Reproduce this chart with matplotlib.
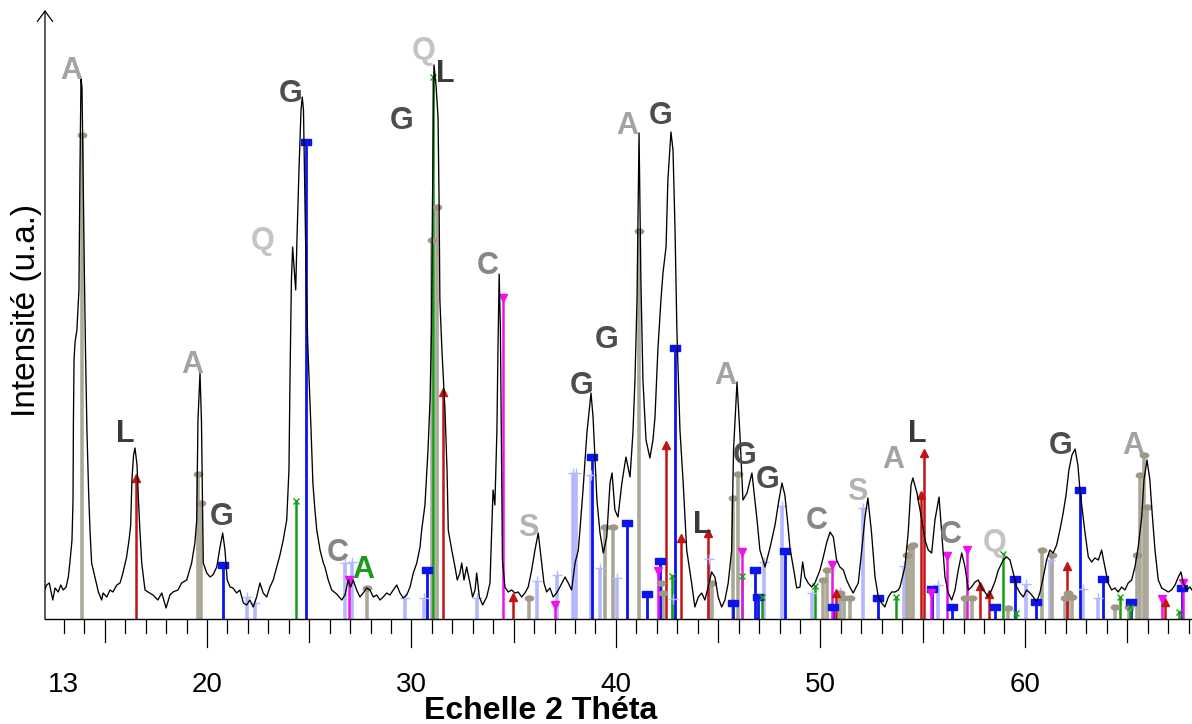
import matplotlib
matplotlib.use("Agg")
import matplotlib.pyplot as plt
from matplotlib.path import Path
from matplotlib.transforms import blended_transform_factory

plt.rcParams['font.family'] = ['Liberation Sans', 'DejaVu Sans']

# ---------------- measured diffractogram (2-theta in degrees, intensity a.u.) ----------------
two_theta = [12.08,
             12.16, 12.29, 12.46, 12.57, 12.73, 12.85, 12.97, 13.11, 13.22, 13.30,
             13.40, 13.45, 13.47, 13.50, 13.55, 13.64, 13.74, 13.79, 13.84, 13.89,
             13.94, 14.01, 14.06, 14.13, 14.21, 14.28, 14.36, 14.52, 14.69, 14.85,
             14.92, 15.10, 15.26, 15.40, 15.59, 15.75, 15.89, 16.07, 16.19, 16.27,
             16.33, 16.41, 16.48, 16.58, 16.65, 16.72, 16.81, 16.97, 17.12, 17.36,
             17.60, 17.79, 18.00, 18.19, 18.34, 18.58, 18.76, 19.01, 19.25, 19.41,
             19.50, 19.56, 19.66, 19.73, 19.78, 19.82, 19.99, 20.15, 20.29, 20.48,
             20.64, 20.77, 20.88, 20.99, 21.13, 21.27, 21.45, 21.61, 21.78, 21.94,
             22.10, 22.26, 22.43, 22.59, 22.75, 22.92, 23.08, 23.24, 23.41, 23.57,
             23.73, 23.90, 24.01, 24.06, 24.13, 24.19, 24.25, 24.34, 24.40, 24.50,
             24.60, 24.66, 24.72, 24.79, 24.87, 24.94, 25.09, 25.18, 25.28, 25.37,
             25.53, 25.69, 25.77, 25.93, 26.10, 26.34, 26.59, 26.75, 26.91, 27.03,
             27.15, 27.32, 27.48, 27.64, 27.81, 27.97, 28.13, 28.30, 28.46, 28.62,
             28.79, 28.95, 29.11, 29.28, 29.44, 29.60, 29.77, 29.93, 30.09, 30.26,
             30.42, 30.50, 30.66, 30.81, 30.91, 30.98, 31.03, 31.10, 31.20, 31.30,
             31.35, 31.39, 31.49, 31.64, 31.74, 31.80, 31.97, 32.13, 32.24, 32.37,
             32.46, 32.57, 32.70, 32.86, 32.99, 33.11, 33.19, 33.32, 33.48, 33.68,
             33.84, 33.91, 33.99, 34.08, 34.18, 34.23, 34.29, 34.35, 34.40, 34.45,
             34.57, 34.73, 34.90, 35.06, 35.22, 35.39, 35.55, 35.71, 35.88, 36.04,
             36.20, 36.37, 36.48, 36.61, 36.77, 36.93, 37.10, 37.26, 37.51, 37.67,
             37.83, 38.00, 38.16, 38.24, 38.39, 38.58, 38.78, 38.88, 39.07, 39.22,
             39.38, 39.55, 39.71, 39.81, 39.95, 40.10, 40.29, 40.49, 40.69, 40.83,
             40.93, 41.03, 41.13, 41.22, 41.32, 41.47, 41.66, 41.81, 41.91, 42.05,
             42.20, 42.30, 42.45, 42.54, 42.69, 42.79, 42.89, 42.98, 43.13, 43.28,
             43.46, 43.70, 43.86, 44.03, 44.19, 44.35, 44.51, 44.68, 44.84, 45.00,
             45.17, 45.33, 45.49, 45.66, 45.75, 45.92, 46.06, 46.21, 46.41, 46.65,
             46.90, 47.04, 47.29, 47.53, 47.78, 47.97, 48.12, 48.26, 48.41, 48.51,
             48.67, 48.84, 49.00, 49.13, 49.24, 49.40, 49.57, 49.73, 49.98, 50.14,
             50.30, 50.47, 50.63, 50.79, 50.95, 51.12, 51.28, 51.44, 51.60, 51.85,
             52.02, 52.18, 52.32, 52.50, 52.67, 52.83, 52.99, 53.15, 53.32, 53.48,
             53.64, 53.81, 53.89, 54.13, 54.29, 54.43, 54.52, 54.72, 54.96, 55.11,
             55.27, 55.44, 55.60, 55.80, 55.93, 56.09, 56.25, 56.42, 56.58, 56.74,
             56.91, 57.07, 57.23, 57.39, 57.56, 57.72, 57.88, 58.04, 58.21, 58.37,
             58.53, 58.70, 58.94, 59.11, 59.27, 59.43, 59.60, 59.76, 59.92, 60.08,
             60.25, 60.41, 60.57, 60.73, 60.90, 61.06, 61.22, 61.38, 61.55, 61.71,
             61.87, 62.01, 62.15, 62.30, 62.45, 62.59, 62.69, 62.94, 63.10, 63.26,
             63.42, 63.59, 63.75, 63.91, 64.07, 64.24, 64.40, 64.56, 64.73, 64.89,
             65.05, 65.22, 65.38, 65.54, 65.71, 65.82, 65.97, 66.11, 66.21, 66.36,
             66.52, 66.69, 66.85, 67.01, 67.17, 67.34, 67.50, 67.63, 67.74, 67.91,
             68.07, 68.17]
intensity = [30,
             34, 36, 19, 31, 27, 34, 29, 32, 42, 57,
             79, 119, 199, 259, 277, 289, 329, 449, 541, 531,
             449, 339, 269, 189, 129, 89, 56, 42, 27, 19,
             26, 22, 29, 27, 34, 36, 46, 62, 79, 94,
             139, 164, 171, 154, 119, 89, 56, 29, 27, 24,
             19, 26, 11, 24, 27, 29, 36, 39, 56, 76,
             99, 199, 246, 199, 119, 56, 46, 42, 44, 52,
             72, 86, 69, 39, 32, 31, 26, 29, 16, 14,
             19, 12, 22, 36, 26, 22, 32, 39, 52, 64,
             79, 99, 149, 239, 339, 372, 354, 329, 379, 449,
             509, 522, 509, 419, 319, 269, 189, 136, 109, 89,
             69, 56, 52, 39, 29, 25, 19, 24, 39, 32,
             39, 29, 22, 26, 31, 29, 22, 24, 19, 22,
             26, 24, 29, 34, 26, 21, 24, 32, 46, 56,
             72, 89, 114, 169, 219, 289, 419, 554, 534, 502,
             419, 319, 269, 209, 149, 89, 69, 52, 39, 46,
             56, 39, 52, 36, 22, 29, 46, 22, 14, 22,
             36, 79, 129, 114, 189, 269, 345, 289, 169, 59,
             32, 27, 29, 26, 27, 22, 26, 32, 49, 69,
             86, 56, 36, 27, 31, 22, 26, 32, 42, 36,
             29, 56, 69, 89, 129, 186, 226, 202, 119, 86,
             66, 82, 136, 146, 109, 102, 136, 162, 142, 186,
             239, 319, 486, 339, 239, 179, 161, 179, 202, 269,
             319, 346, 372, 439, 487, 469, 389, 289, 189, 139,
             69, 36, 12, 22, 26, 19, 32, 47, 42, 22,
             12, 19, 36, 69, 169, 237, 186, 119, 126, 146,
             99, 69, 52, 71, 94, 119, 136, 124, 94, 71,
             52, 31, 32, 57, 42, 36, 32, 36, 49, 62,
             76, 87, 82, 59, 52, 49, 39, 32, 26, 36,
             69, 102, 121, 86, 42, 22, 16, 12, 22, 27,
             27, 29, 32, 52, 86, 134, 141, 126, 99, 79,
             69, 66, 99, 122, 86, 42, 26, 19, 29, 49,
             66, 52, 29, 32, 37, 39, 31, 27, 22, 29,
             37, 49, 59, 62, 59, 46, 32, 26, 22, 29,
             26, 22, 17, 26, 42, 59, 69, 66, 74, 89,
             106, 124, 149, 164, 170, 154, 129, 86, 62, 57,
             61, 59, 69, 52, 36, 29, 31, 27, 32, 29,
             36, 39, 52, 72, 102, 139, 159, 139, 109, 69,
             39, 31, 29, 27, 29, 34, 42, 47, 36, 29,
             32, 29]
assert len(two_theta) == len(intensity)

# ---------------- reference patterns (stick positions / relative heights) ----------------
A_theta = [13.89, 19.56, 19.71, 27.82, 30.99, 31.25, 35.75, 39.46, 39.85, 41.12, 42.20, 42.30, 44.70,
           45.72, 45.97, 50.12, 50.32, 50.95, 51.15, 51.44, 54.23, 54.38, 54.52, 57.07, 57.41, 59.17,
           60.83, 61.32, 61.96, 62.10, 62.30, 64.40, 65.09, 65.48, 65.62, 65.82, 65.97]
A_int = [484, 145, 116, 31, 379, 412, 21, 92, 92, 388, 36, 26, 36,
         121, 145, 39, 49, 26, 21, 21, 64, 72, 74, 21, 21, 11,
         69, 64, 21, 26, 22, 12, 12, 64, 144, 164, 112]

G_theta = [20.78, 24.83, 30.76, 38.83, 40.54, 41.52, 42.15, 42.89, 45.72, 46.80, 46.95, 48.27, 50.61,
           52.81, 55.45, 56.43, 58.53, 59.51, 60.54, 62.69, 63.82, 65.19, 67.68]
G_int = [54, 477, 49, 162, 96, 25, 58, 271, 16, 49, 22, 68, 12,
         21, 30, 12, 12, 40, 17, 129, 40, 17, 31]

L_theta = [16.53, 31.54, 34.96, 42.45, 43.18, 44.50, 50.76, 54.91, 55.06, 57.80, 58.24, 62.05, 66.85]
L_int = [141, 227, 22, 174, 81, 86, 26, 124, 166, 33, 25, 53, 17]

Q_theta = [24.35, 31.05, 42.74, 46.16, 47.14, 49.73, 53.69, 58.93, 59.56, 64.65, 65.14, 67.53]
Q_int = [118, 542, 43, 43, 22, 33, 22, 65, 6, 22, 12, 7]

C_theta = [26.94, 34.47, 37.02, 42.05, 46.16, 50.56, 55.40, 56.19, 57.16, 66.70, 67.73]
C_int = [39, 321, 14, 48, 67, 54, 26, 63, 69, 20, 36]

S_theta = [21.96, 22.35, 26.75, 27.09, 29.68, 30.61, 33.20, 36.14, 37.12, 37.90, 38.05, 38.78, 39.22,
           40.05, 42.79, 44.55, 47.24, 48.12, 49.59, 50.95, 52.08, 54.08, 55.75, 60.05, 61.22, 62.84,
           63.57]
S_int = [22, 16, 56, 57, 21, 21, 21, 38, 44, 146, 146, 144, 51,
         41, 20, 60, 57, 113, 26, 27, 111, 53, 34, 35, 59, 30,
         21]

# ---------------- peak identification labels ----------------
label_text = ['A', 'L', 'A', 'G', 'Q', 'G', 'C', 'A', 'G', 'Q', 'L', 'C', 'S', 'G', 'G',
              'A', 'G', 'L', 'A', 'G', 'G', 'C', 'S', 'A', 'L', 'C', 'Q', 'G', 'A']
label_theta = [13.38, 15.99, 19.27, 20.73, 22.74, 24.09, 26.41, 27.63, 29.54, 30.61, 31.64, 33.74,
               35.70, 38.34, 39.56, 40.54, 42.20, 44.21, 45.33, 46.31, 47.43, 49.83, 51.79, 53.55,
               54.72, 56.38, 58.53, 61.76, 65.28]
label_int = [551, 188, 257, 105, 381, 528, 69, 52, 501, 571, 548, 356,
             94, 236, 282, 496, 506, 97, 246, 166, 142, 101, 130, 162,
             188, 87, 79, 176, 176]
label_phase = ['A', 'L', 'A', 'G', 'Q', 'G', 'C', 'A2', 'G', 'Q', 'L', 'C', 'S', 'G', 'G',
               'A', 'G', 'L', 'A', 'G', 'G', 'C', 'S', 'A', 'L', 'C', 'Q', 'G', 'A']

x_major_labels = [13, 20, 30, 40, 50, 60]

# ---------------- styling ----------------
letter_colors = {'A': '#a3a3a3', 'G': '#4d4d4d', 'L': '#383838', 'Q': '#c4c4c4',
                 'C': '#878787', 'S': '#b3b3b3', 'A2': '#1c9a1c'}

uc = Path.unit_circle()
ellipse = Path(uc.vertices * [1.0, 0.6], uc.codes)
rect = Path([(-1, -0.6), (1, -0.6), (1, 0.6), (-1, 0.6), (-1, -0.6)],
            [Path.MOVETO, Path.LINETO, Path.LINETO, Path.LINETO, Path.CLOSEPOLY])

fig = plt.figure(figsize=(11.92, 7.24), dpi=100)
ax = fig.add_axes([45 / 1192, 105 / 724, 1147 / 1192, 609 / 724])
ax.set_xlim(12.08, 68.17)
ax.set_ylim(0, 609)

ax.plot(two_theta, intensity, color='black', lw=0.95, zorder=3)

sticks = [
    (S_theta, S_int, '#b4b8ff', 2.6, '+', 6.5, '#b4b8ff'),
    (A_theta, A_int, '#aca897', 2.6, ellipse, 6.0, '#9d9886'),
    (G_theta, G_int, '#0a14f0', 2.0, rect, 6.5, '#0a14f0'),
    (L_theta, L_int, '#c21414', 1.8, '^', 5.5, '#c21414'),
    (Q_theta, Q_int, '#12a012', 1.8, 'x', 5.0, '#12a012'),
    (C_theta, C_int, '#f010f0', 1.8, 'v', 5.5, '#f010f0'),
]
for th, it, col, lw, mk, ms, mcol in sticks:
    ax.vlines(th, 0, it, colors=col, lw=lw, zorder=2)
    ax.plot(th, it, ls='none', marker=mk, ms=ms, color=mcol, mec=mcol, mew=1.0, zorder=2.5)

for t, x, y, ph in zip(label_text, label_theta, label_int, label_phase):
    ax.annotate(t, (x, y), xytext=(0, -8), textcoords='offset points', ha='center',
                va='baseline', fontsize=22, fontweight='bold', color=letter_colors[ph], zorder=4)

# axes
for s in ['top', 'right', 'left']:
    ax.spines[s].set_visible(False)
ax.spines['bottom'].set_linewidth(1.0)
ax.set_yticks([])
ax.set_xticks(x_major_labels)
ax.set_xticklabels([str(v) for v in x_major_labels])
ax.tick_params(axis='x', length=0, pad=38, labelsize=20)

trans = blended_transform_factory(ax.transData, ax.transAxes)
for d in range(13, 69):
    L = 28 if d % 10 == 0 else (23 if d % 5 == 0 else 14)
    ax.plot([d, d], [0, -L / 609], transform=trans, clip_on=False, color='black', lw=0.9)

ax.annotate('', xy=(0, 1.0), xytext=(0, 0), xycoords='axes fraction', textcoords='axes fraction',
            arrowprops=dict(arrowstyle='->,head_length=0.75,head_width=0.55', lw=0.9, color='black',
                            shrinkA=0, shrinkB=0), annotation_clip=False)

fig.text(541 / 1192, (724 - 719) / 724, 'Echelle 2 Théta', ha='center', va='baseline',
         fontsize=23, fontweight='bold')
fig.text(27 / 1192, 1 - 310 / 724, 'Intensité (u.a.)', ha='center', va='center', rotation=90,
         fontsize=24)

fig.savefig('out.png', dpi=100)
